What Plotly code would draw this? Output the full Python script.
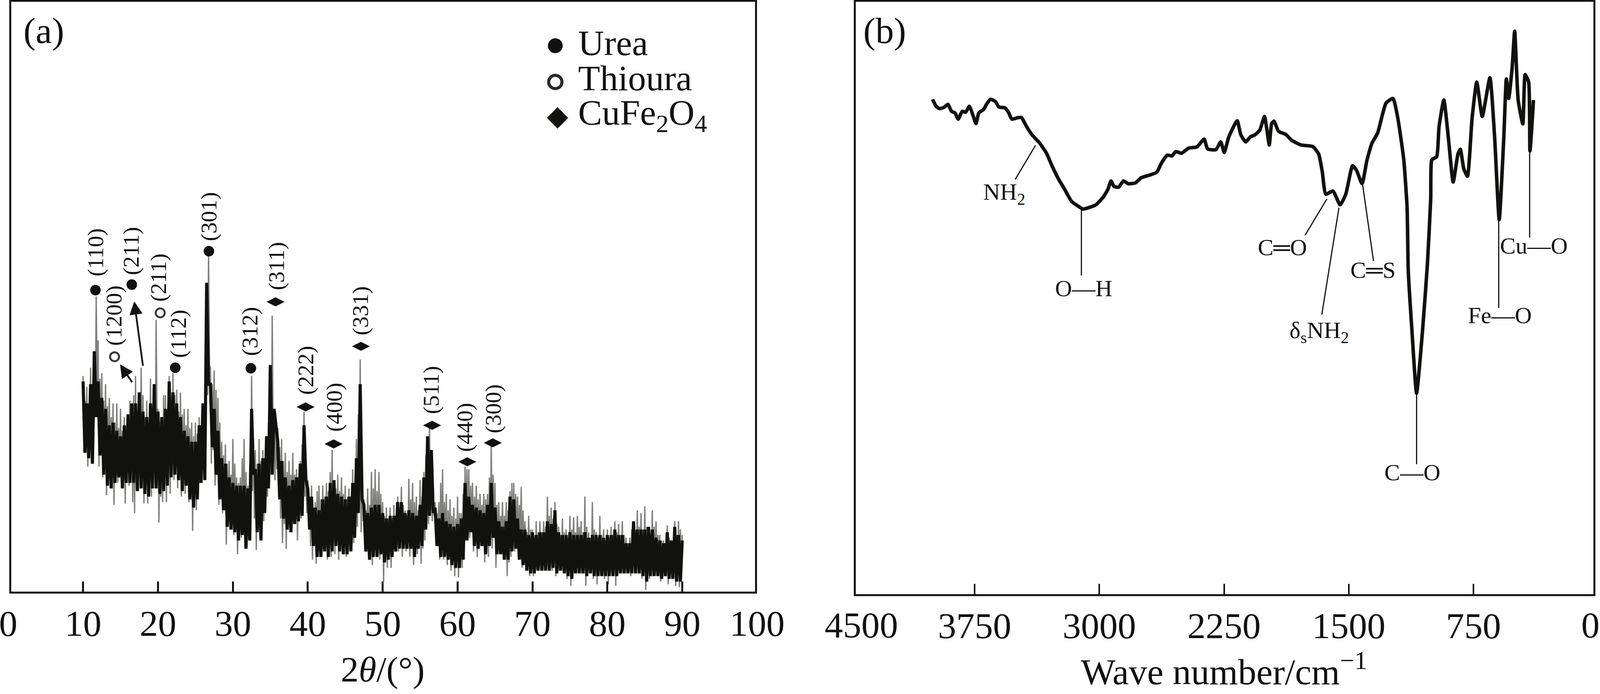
import plotly.graph_objects as go

INK = "#111210"
FONT = "Liberation Serif"

# ---------- panel (a): XRD (arbitrary intensity units) ----------
xrd_start, xrd_step = 10.0, 0.25
xrd_top = [
 790,700,750,640, 820,760,700,1080, 920,780,800,700, 760,680,710,640, 690,620,690,600,
 670,590,640,570, 640,700,650,720, 790,660,730,820, 720,640,700,620, 780,660,700,995,
 670,620,640,720, 720,640,790,700, 800,720,740,660, 730,650,670,610, 670,600,620,570,
 620,580,640,600, 670,700,800,1230, 820,760,810,740, 710,620,550,500, 540,470,480,430,
 560,470,420,400, 420,490,560,440, 390,470,790,560, 520,470,560,480, 520,480,560,620,
 690,1010,660,640, 600,530,560,480, 510,440,480,430, 510,430,450,420, 480,540,660,470,
 410,350,390,310, 330,370,390,340, 390,350,400,370, 440,520,400,380, 430,370,420,360,
 390,340,380,350, 450,400,560,650, 850,520,340,300, 380,320,440,380, 450,370,440,360,
 330,280,310,270, 310,270,320,280, 350,300,385,320, 300,280,415,340, 400,330,350,300,
 410,350,440,500, 570,610,490,400, 330,290,330,400, 450,330,360,300, 340,280,310,270,
 350,290,290,360, 460,450,450,390, 400,350,390,340, 360,320,360,340, 360,420,550,430,
 400,320,330,280, 330,280,330,300, 370,400,400,360, 350,320,385,300, 260,220,280,230,
 230,200,260,220, 260,220,260,240, 350,280,310,270, 330,250,240,210, 270,220,230,200,
 280,230,275,220, 280,240,260,220, 350,240,220,200, 330,230,220,200, 280,210,230,190,
 230,200,240,210, 260,220,250,210, 260,210,200,180, 200,230,260,220, 300,240,290,230,
 315,240,240,210, 300,240,260,210, 210,190,190,180, 245,200,190,180, 260,210,260,230,
 210]
xrd_bot = [
 510,590,460,560, 470,560,640,760, 460,560,420,520, 355,450,420,480, 320,420,400,440,
 420,470,325,430, 390,450,330,290, 380,470,390,450, 325,400,325,420, 350,430,400,600,
 255,350,330,390, 330,410,360,430, 410,460,380,440, 350,420,360,420, 330,380,225,320,
 300,380,400,450, 460,560,720,830, 470,520,390,450, 320,380,290,330, 175,270,260,300,
 210,280,140,240, 200,260,160,230, 210,280,370,270, 155,230,210,260, 260,310,350,400,
 430,600,410,450, 380,270,180,250, 160,240,230,280, 250,300,190,260, 270,340,350,290,
 240,170,120,190, 105,170,130,200, 160,210,120,190, 130,190,140,200, 120,190,140,190,
 130,180,150,190, 180,250,240,300, 220,260,170,210, 140,180,100,160, 130,170,120,170,
 40,120,90,150, 90,150,150,200, 150,190,130,180, 150,190,130,170, 100,160,140,190,
 105,160,190,240, 250,300,260,280, 180,220,120,170, 120,160,100,150, 80,130,60,110,
 55,120,90,150, 200,260,200,240, 150,200,130,170, 190,220,110,160, 130,180,160,210,
 90,140,140,180, 130,160,60,110, 130,170,150,190, 140,170,90,130, 90,120,60,100,
 60,110,90,120, 100,130,100,130, 100,130,80,110, 60,100,80,110, 80,110,50,90,
 25,80,70,100, 90,120,70,100, 25,80,90,110, 50,90,30,70, 70,100,50,80,
 30,80,70,100, 25,80,90,110, 70,100,100,120, 60,90,90,110, 70,100,50,80,
 10,60,50,80, 60,90,80,100, 40,80,60,90, 30,70,50,80, 25,70,20,60,
 30]

core_start, core_step = 10.0, 0.5
core_top = [
 770,690, 760,880, 770,710, 670,610, 620,590, 570,610, 650,690, 690,730, 660,640, 690,760,
 660,640, 670,770, 730,690, 640,590, 570,550, 550,610, 690,1130, 760,670, 590,490, 470,420,
 400,390, 390,390, 380,670, 450,470, 490,570, 830,670, 550,480, 420,390, 410,420, 470,610,
 380,350, 310,300, 340,350, 400,410, 360,350, 340,350, 400,490, 760,320, 290,310, 320,320,
 290,270, 280,280, 330,330, 290,300, 290,280, 320,420, 570,520, 310,270, 290,260, 250,240,
 250,270, 400,350, 320,310, 300,290, 320,400, 310,260, 240,260, 350,340, 270,230, 230,210,
 220,210, 220,220, 260,250, 300,220, 210,210, 220,210, 210,210, 220,200, 210,210, 210,200,
 210,210, 230,210, 210,180, 180,260, 230,230, 230,240, 230,200, 190,180, 220,190, 240,210,
 190]
core_bot = [
 510,490, 470,640, 500,430, 390,380, 400,420, 380,400, 400,400, 370,380, 360,350, 380,380,
 360,370, 390,420, 430,410, 370,390, 340,310, 340,400, 410,760, 530,430, 340,300, 240,230,
 220,190, 210,160, 190,430, 220,190, 290,380, 430,600, 340,270, 230,220, 250,260, 280,410,
 230,170, 130,130, 150,130, 150,170, 150,140, 140,150, 200,290, 340,150, 120,130, 130,140,
 110,120, 130,150, 160,160, 160,160, 130,160, 170,230, 280,290, 170,130, 130,120, 100,90,
 90,120, 190,220, 170,160, 170,140, 170,200, 140,140, 120,120, 150,160, 120,100, 80,70,
 70,80, 80,80, 80,90, 70,80, 70,60, 50,70, 70,70, 60,70, 60,60, 60,60,
 60,60, 60,70, 70,70, 70,70, 70,60, 40,60, 60,60, 50,60, 50,50, 40,40,
 40]

urea_x = [11.65, 16.5, 22.3, 26.8, 32.4]
urea_y = [1103, 1123, 820, 1245, 818]
thio_x = [14.2, 20.3]
thio_y = [860, 1020]
cufe_x = [35.7, 39.7, 43.45, 47.1, 56.6, 61.3, 64.7]
cufe_y = [1060, 677, 542, 898, 610, 477, 546]

hkl_text = ["(110)", "(1200)", "(211)", "(211)", "(112)", "(301)", "(312)", "(311)", "(222)", "(400)", "(331)", "(511)", "(440)", "(300)"]
hkl_x = [11.65, 14.1, 16.4, 20.05, 22.75, 26.8, 32.25, 35.8, 39.7, 43.5, 47.0, 56.45, 60.9, 64.75]
hkl_y = [1240, 1010, 1245, 1148, 943, 1371, 953, 1190, 811, 676, 1028, 738, 602, 671]

legend_names = ["Urea", "Thioura", "CuFe<sub>2</sub>O<sub>4</sub>"]
legend_mark_y = [1994, 1862, 1731]
legend_text_y = [2004, 1876, 1741]

a_ticks = [0, 10, 20, 30, 40, 50, 60, 70, 80, 90, 100]

# ---------- panel (b): FTIR ----------
ir_wn = [4003,3982,3961,3932,3911,3889,3868,3849,3825,3804,3782,3761,3742,3725,3696,3676,3654,3625,3604,3568,
 3547,3526,3490,3468,3439,3405,3361,3318,3283,3247,3204,3168,3133,3098,3054,3020,2976,2948,2930,2912,
 2884,2855,2827,2783,2749,2698,2655,2626,2591,2563,2541,2505,2463,2413,2370,2349,2299,2270,2249,2221,
 2171,2149,2120,2091,2064,2035,2007,1992,1978,1964,1950,1922,1879,1843,1787,1716,1681,1659,1638,1595,
 1552,1518,1477,1453,1420,1390,1361,1326,1276,1234,1205,1169,1149,1142,1120,1092,1056,1027,1007,1000,
 971,957,928,900,872,843,829,808,786,758,730,697,651,623,595,567,552,538,517,502,
 481,453,439,418,410,389]
ir_t = [1262,1244,1238,1242,1249,1231,1227,1211,1231,1229,1244,1222,1200,1227,1236,1251,1262,1256,1242,1240,
 1229,1211,1215,1215,1193,1171,1151,1124,1090,1059,1028,1001,990,981,986,992,1012,1032,1053,1039,
 1037,1053,1046,1048,1061,1068,1075,1099,1119,1117,1128,1124,1137,1140,1160,1135,1133,1153,1126,1166,
 1207,1171,1153,1166,1171,1183,1218,1183,1145,1199,1206,1180,1172,1157,1145,1141,1122,1076,1019,1027,
 992,1019,1092,1080,1046,1107,1149,1176,1252,1264,1214,1107,984,824,671,510,671,839,1007,1107,
 1115,1191,1260,1160,1050,1122,1134,1084,1065,1214,1306,1218,1317,1168,954,1168,1314,1264,1344,1436,
 1260,1199,1325,1306,1130,1260]

band_names = ["NH<sub>2</sub>", "O\u2014H", "C\u2550O", "\u03b4<sub>s</sub>NH<sub>2</sub>", "C\u2550S", "C\u2014O", "Fe\u2014O", "Cu\u2014O"]
band_text_wn = [3572, 3094, 1898, 1677, 1354, 1117, 591, 386]
band_text_t = [1021, 778, 883, 667, 825, 307, 709, 887]
band_from_wn = [3384, 3108, 1631, 1559, 1416, 1092, 598, 412]
band_from_t = [1144, 981, 1007, 984, 1042, 506, 950, 1130]
band_to_wn = [3506, 3108, 1763, 1662, 1351, 1092, 598, 412]
band_to_t = [1057, 811, 914, 711, 848, 328, 728, 908]

b_ticks = [4500, 3750, 3000, 2250, 1500, 750, 0]

# ---------- figure (sized to fill the window; placement is in fractions of the 4292x1776 reference) ----------
W, H = 4292, 1776
fig = go.Figure()

def px_x(p):
    return p / W

def px_y(p):
    return 1 - p / H

# grey spikes
gx, gy = [], []
for i, (t, b) in enumerate(zip(xrd_top, xrd_bot)):
    x0 = xrd_start + i * xrd_step
    gx += [x0, x0 + xrd_step / 2]
    gy += [t, b]
fig.add_trace(go.Scatter(x=gx[:-1], y=gy[:-1], mode="lines", line=dict(color="#80807e", width=3.5), xaxis="x", yaxis="y", showlegend=False, name="XRD spikes"))

# black core as a dense sawtooth
cx, cy = [], []
for i, (t, b) in enumerate(zip(core_top, core_bot)):
    x0 = core_start + i * core_step
    cx += [x0, x0 + core_step / 2]
    cy += [t, b]
fig.add_trace(go.Scatter(x=cx[:-1], y=cy[:-1], mode="lines", line=dict(color=INK, width=8), xaxis="x", yaxis="y", showlegend=False, name="XRD core"))

def marks(x, y, symbol, size, lw=0, color=INK, name=""):
    fig.add_trace(go.Scatter(x=x, y=y, mode="markers", marker=dict(symbol=symbol, size=size, color=color, line=dict(width=lw, color=color)),
                             xaxis="x", yaxis="y", showlegend=False, name=name))

marks(urea_x, urea_y, "circle", 27, name="Urea")
marks(thio_x, thio_y, "circle-open", 23, lw=5, color="#3a3a38", name="Thioura")
marks(cufe_x, cufe_y, "diamond-wide", 33, name="CuFe2O4")

# legend drawn as marks + labels
marks([73.05], [legend_mark_y[0]], "circle", 38, name="Urea key")
marks([73.05], [legend_mark_y[1]], "circle-open", 34, lw=8, color="#2a2a28", name="Thioura key")
marks([73.35], [legend_mark_y[2]], "diamond", 42, name="CuFe2O4 key")

annotations = []
for t, x, y in zip(hkl_text, hkl_x, hkl_y):
    annotations.append(dict(text=t, x=x, y=y, xref="x", yref="y", textangle=-90, showarrow=False, font=dict(family=FONT, size=58, color=INK)))
for t, y in zip(legend_names, legend_text_y):
    annotations.append(dict(text=t, x=75.97, y=y, xref="x", yref="y", xanchor="left", showarrow=False, font=dict(family=FONT, size=92, color=INK)))

# arrows in (a)
annotations.append(dict(x=16.83, y=1062, ax=18.0, ay=825, xref="x", yref="y", axref="x", ayref="y", text="", showarrow=True,
                        arrowhead=2, arrowsize=1.5, arrowwidth=4.5, arrowcolor=INK))
annotations.append(dict(x=14.93, y=832, ax=16.6, ay=765, xref="x", yref="y", axref="x", ayref="y", text="", showarrow=True,
                        arrowhead=2, arrowsize=1.5, arrowwidth=4.5, arrowcolor=INK))

for label, px in (("(a)", 117), ("(b)", 2373)):
    annotations.append(dict(text=label, x=px_x(px), y=px_y(78), xref="paper", yref="paper", xanchor="center", yanchor="middle",
                            showarrow=False, font=dict(family=FONT, size=94, color=INK)))

# the first and last labels of (b) are printed inset from their tick positions
for i in (0, len(b_ticks) - 1):
    annotations.append(dict(text=str(b_ticks[i]), x=px_x(2311 if i == 0 else 4266), y=px_y(1599), xref="paper", yref="paper",
                            xanchor="center", yanchor="middle", showarrow=False, font=dict(family=FONT, size=94, color=INK)))

# FTIR curve
fig.add_trace(go.Scatter(x=ir_wn, y=ir_t, mode="lines", line=dict(color=INK, width=9, shape="spline", smoothing=0.5), xaxis="x2", yaxis="y2", showlegend=False, name="FTIR"))

for i in range(len(band_names)):
    fig.add_trace(go.Scatter(x=[band_from_wn[i], band_to_wn[i]], y=[band_from_t[i], band_to_t[i]], mode="lines",
                             line=dict(color=INK, width=3), xaxis="x2", yaxis="y2", showlegend=False, name=band_names[i]))
    annotations.append(dict(text=band_names[i], x=band_text_wn[i], y=band_text_t[i], xref="x2", yref="y2", showarrow=False,
                            font=dict(family=FONT, size=60, color=INK)))

# frames (the printed frames sit slightly inside the first and last tick positions)
shapes = [
    dict(type="rect", xref="paper", yref="paper", x0=px_x(27.5), x1=px_x(2028), y0=px_y(1516.5), y1=px_y(2), line=dict(color=INK, width=5)),
    dict(type="rect", xref="paper", yref="paper", x0=px_x(2293), x1=px_x(4277), y0=px_y(1523), y1=px_y(2), line=dict(color=INK, width=5)),
]

def xaxis_style(ticks, labels, domain_px, rng, anchor, title, title_size, title_gap, tick_w):
    return dict(domain=[px_x(domain_px[0]), px_x(domain_px[1])], range=rng, tickmode="array", tickvals=labels, anchor=anchor,
                automargin=False, showline=False, showgrid=False, zeroline=False, ticks="",
                tickfont=dict(family=FONT, size=94, color=INK), ticklabelstandoff=15, ticklabeloverflow="allow",
                minor=dict(tickmode="array", tickvals=ticks[1:-1], ticks="inside", ticklen=29, tickwidth=tick_w, tickcolor=INK, showgrid=False),
                title=dict(text=title, font=dict(family=FONT, size=title_size, color=INK), standoff=title_gap))

yaxis_common = dict(automargin=False, showline=False, showgrid=False, zeroline=False, showticklabels=False, ticks="")

fig.update_layout(
    template="none", autosize=True,
    margin=dict(l=0, r=0, t=0, b=0), plot_bgcolor="white", paper_bgcolor="white",
    showlegend=False, annotations=annotations, shapes=shapes,
    xaxis=xaxis_style(a_ticks, a_ticks, (22, 2031), [0, 100], "y", "2<i>\u03b8</i>/(\u00b0)", 92, 34, 5),
    yaxis=dict(domain=[px_y(1516.5), px_y(2)], range=[0, 2158], anchor="x", **yaxis_common),
    xaxis2=xaxis_style(b_ticks, b_ticks[1:-1], (2280, 4287), [4500, 0], "y2", "Wave number/cm<sup>\u22121</sup>", 94, 27, 4),
    yaxis2=dict(domain=[px_y(1523), px_y(2)], range=[-7, 1514], anchor="x2", **yaxis_common),
)

fig.write_html("out.html", config=dict(displayModeBar=False), default_width="100%", default_height="100vh",
               post_script="document.body.style.margin='0';window.dispatchEvent(new Event('resize'));")
